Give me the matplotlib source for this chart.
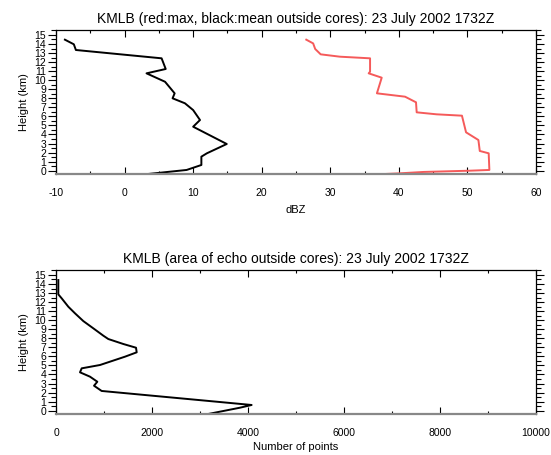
import matplotlib
matplotlib.use("Agg")
import matplotlib.pyplot as plt
from matplotlib.ticker import MultipleLocator

plt.rcParams['font.family'] = ['Liberation Sans', 'DejaVu Sans']
plt.rcParams['axes.unicode_minus'] = False

# Top panel: mean (black) and max (red) reflectivity profiles
mean_h = [14.48, 13.97, 13.34, 12.42, 11.24, 10.76, 9.83, 8.92, 8.55, 8.0, 7.45,
          6.7, 5.6, 4.86, 2.95, 1.92, 1.55, 0.63, 0.08, -0.4]
mean_dbz = [-8.7, -7.4, -7.1, 5.4, 6.0, 3.2, 5.9, 6.9, 7.3, 7.0, 8.8,
            10.0, 11.0, 10.0, 14.9, 12.0, 11.2, 11.2, 9.05, 3.0]

max_h = [14.48, 14.07, 13.45, 12.86, 12.6, 12.42, 10.94, 10.76, 10.28, 8.55, 8.18,
         7.56, 6.45, 6.23, 6.08, 4.24, 3.39, 2.18, 1.92, 0.08, 0.0, -0.14, -0.29, -0.4]
max_dbz = [26.5, 27.5, 27.8, 28.6, 31.4, 35.8, 35.8, 35.6, 37.5, 36.8, 40.9,
           42.5, 42.6, 45.5, 49.2, 49.8, 51.6, 51.8, 53.1, 53.2, 50.4, 43.6, 40.2, 37.0]

# Bottom panel: area of echo outside cores
area_h = [14.44, 12.86, 12.42, 11.49, 10.76, 9.9, 9.1, 8.29, 7.92, 7.37, 6.96,
          6.45, 5.97, 5.05, 4.68, 4.24, 3.76, 3.2, 2.76, 2.18, 0.63, 0.33, -0.4]
area_n = [48, 48, 118, 257, 396, 570, 778, 986, 1090, 1403, 1667,
          1681, 1438, 917, 535, 500, 708, 861, 792, 951, 4076, 3833, 3139]

height_ticks = list(range(0, 16))

fig = plt.figure(figsize=(5.51, 4.55), dpi=100)
W, H = 551, 455

def make_ax(top_px, bottom_px):
    ax = fig.add_axes([56 / W, (H - bottom_px) / H, 480 / W, (bottom_px - top_px) / H])
    return ax

def style(ax):
    ax.set_ylim(-0.4, 15.55)
    ax.set_yticks(height_ticks)
    ax.yaxis.set_minor_locator(MultipleLocator(0.5))
    ax.tick_params(axis='y', which='major', direction='out', length=6, width=0.8,
                   labelsize=7.5, left=True, right=True, pad=1)
    ax.tick_params(axis='y', which='minor', direction='out', length=3.5, width=0.8,
                   left=True, right=True)
    ax.tick_params(axis='x', which='major', direction='in', length=5, width=0.8,
                   labelsize=7.5, top=True, bottom=True, pad=10)
    ax.tick_params(axis='x', which='minor', direction='in', length=2.5, width=0.8,
                   top=True, bottom=True)
    for s in ax.spines.values():
        s.set_linewidth(0.9)
    ax.spines['bottom'].set_color('#888888')
    ax.spines['bottom'].set_linewidth(1.6)
    ax.set_ylabel('Height (km)', fontsize=8, labelpad=4)

ax1 = make_ax(30, 174.3)
ax1.plot(mean_dbz, mean_h, color='black', lw=1.4)
ax1.plot(max_dbz, max_h, color='#f55a5a', lw=1.4)
ax1.set_xlim(-10, 60)
ax1.xaxis.set_major_locator(MultipleLocator(10))
ax1.xaxis.set_minor_locator(MultipleLocator(5))
style(ax1)
ax1.set_xlabel('dBZ', fontsize=8, labelpad=5)
ax1.set_title('KMLB (red:max, black:mean outside cores): 23 July 2002 1732Z',
              fontsize=10, pad=5)

ax2 = make_ax(270, 414.3)
ax2.plot(area_n, area_h, color='black', lw=1.4)
ax2.set_xlim(0, 10000)
ax2.xaxis.set_major_locator(MultipleLocator(2000))
ax2.xaxis.set_minor_locator(MultipleLocator(1000))
style(ax2)
ax2.set_xlabel('Number of points', fontsize=8, labelpad=3)
ax2.set_title('KMLB (area of echo outside cores): 23 July 2002 1732Z',
              fontsize=10, pad=5)

fig.savefig('out.png', dpi=100)
